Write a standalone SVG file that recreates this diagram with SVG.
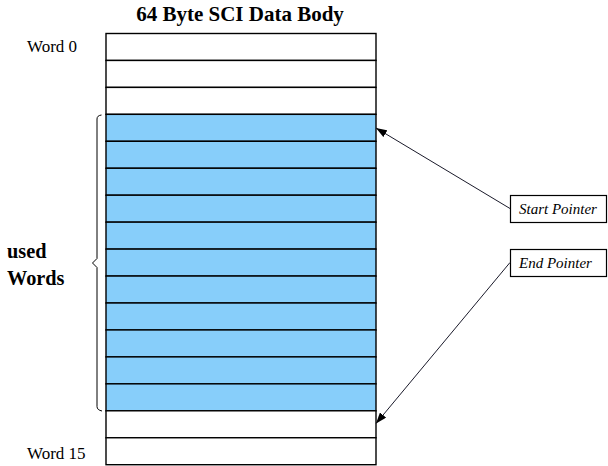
<svg xmlns="http://www.w3.org/2000/svg" width="608" height="466" viewBox="0 0 608 466">
<style>
.row{stroke:#000;stroke-width:1.4;fill:#fff}
.used{fill:#87cefa}
.t{font-family:"Liberation Serif","Times New Roman",serif;fill:#000}
.b{font-weight:bold}
.i{font-style:italic}
.box{fill:#fff;stroke:#000;stroke-width:1.2}
.conn{stroke:#1a1a2a;stroke-width:1;fill:none}
</style>
<defs>
<marker id="ah" viewBox="0 0 11 8" refX="11" refY="4" markerWidth="11" markerHeight="8" markerUnits="userSpaceOnUse" orient="auto">
<path d="M0,0 L11,4 L0,8 Z" fill="#000"/>
</marker>
</defs>
<g id="title"><text class="t b" x="240" y="21" font-size="21" text-anchor="middle">64 Byte SCI Data Body</text></g>
<g id="word0-label"><text class="t" x="27" y="52" font-size="17">Word 0</text></g>
<g id="word15-label"><text class="t" x="27" y="459" font-size="17">Word 15</text></g>
<g id="used-label"><text class="t b" font-size="20.3"><tspan x="7" y="258">used</tspan><tspan x="7" y="285">Words</tspan></text></g>
<g id="rows">
<g id="w0"><rect class="row" x="106" y="33.5" width="270" height="26.95"/></g>
<g id="w1"><rect class="row" x="106" y="60.45" width="270" height="26.95"/></g>
<g id="w2"><rect class="row" x="106" y="87.4" width="270" height="26.95"/></g>
<g id="w3"><rect class="row used" x="106" y="114.35" width="270" height="26.95"/></g>
<g id="w4"><rect class="row used" x="106" y="141.3" width="270" height="26.95"/></g>
<g id="w5"><rect class="row used" x="106" y="168.25" width="270" height="26.95"/></g>
<g id="w6"><rect class="row used" x="106" y="195.2" width="270" height="26.95"/></g>
<g id="w7"><rect class="row used" x="106" y="222.15" width="270" height="26.95"/></g>
<g id="w8"><rect class="row used" x="106" y="249.1" width="270" height="26.95"/></g>
<g id="w9"><rect class="row used" x="106" y="276.05" width="270" height="26.95"/></g>
<g id="w10"><rect class="row used" x="106" y="303" width="270" height="26.95"/></g>
<g id="w11"><rect class="row used" x="106" y="329.95" width="270" height="26.95"/></g>
<g id="w12"><rect class="row used" x="106" y="356.9" width="270" height="26.95"/></g>
<g id="w13"><rect class="row used" x="106" y="383.85" width="270" height="26.95"/></g>
<g id="w14"><rect class="row" x="106" y="410.8" width="270" height="26.95"/></g>
<g id="w15"><rect class="row" x="106" y="437.75" width="270" height="26.95"/></g>
</g>
<g id="brace"><path d="M101.5,115 Q97,115.5 97,119 L97,258.5 L92.5,263 L97,267.5 L97,406.5 Q97,410 102,411" fill="none" stroke="#000" stroke-width="1"/></g>
<g id="start-pointer"><rect class="box" x="510.5" y="195.5" width="96" height="27"/><text class="t i" x="519" y="213.5" font-size="15">Start Pointer</text></g>
<g id="end-pointer"><rect class="box" x="510.5" y="249.5" width="96" height="27"/><text class="t i" x="519" y="267.5" font-size="15">End Pointer</text></g>
<g id="connectors">
<line class="conn" x1="510" y1="208.5" x2="376" y2="128" marker-end="url(#ah)"/>
<line class="conn" x1="510" y1="262.5" x2="376" y2="423.5" marker-end="url(#ah)"/>
</g>
</svg>
